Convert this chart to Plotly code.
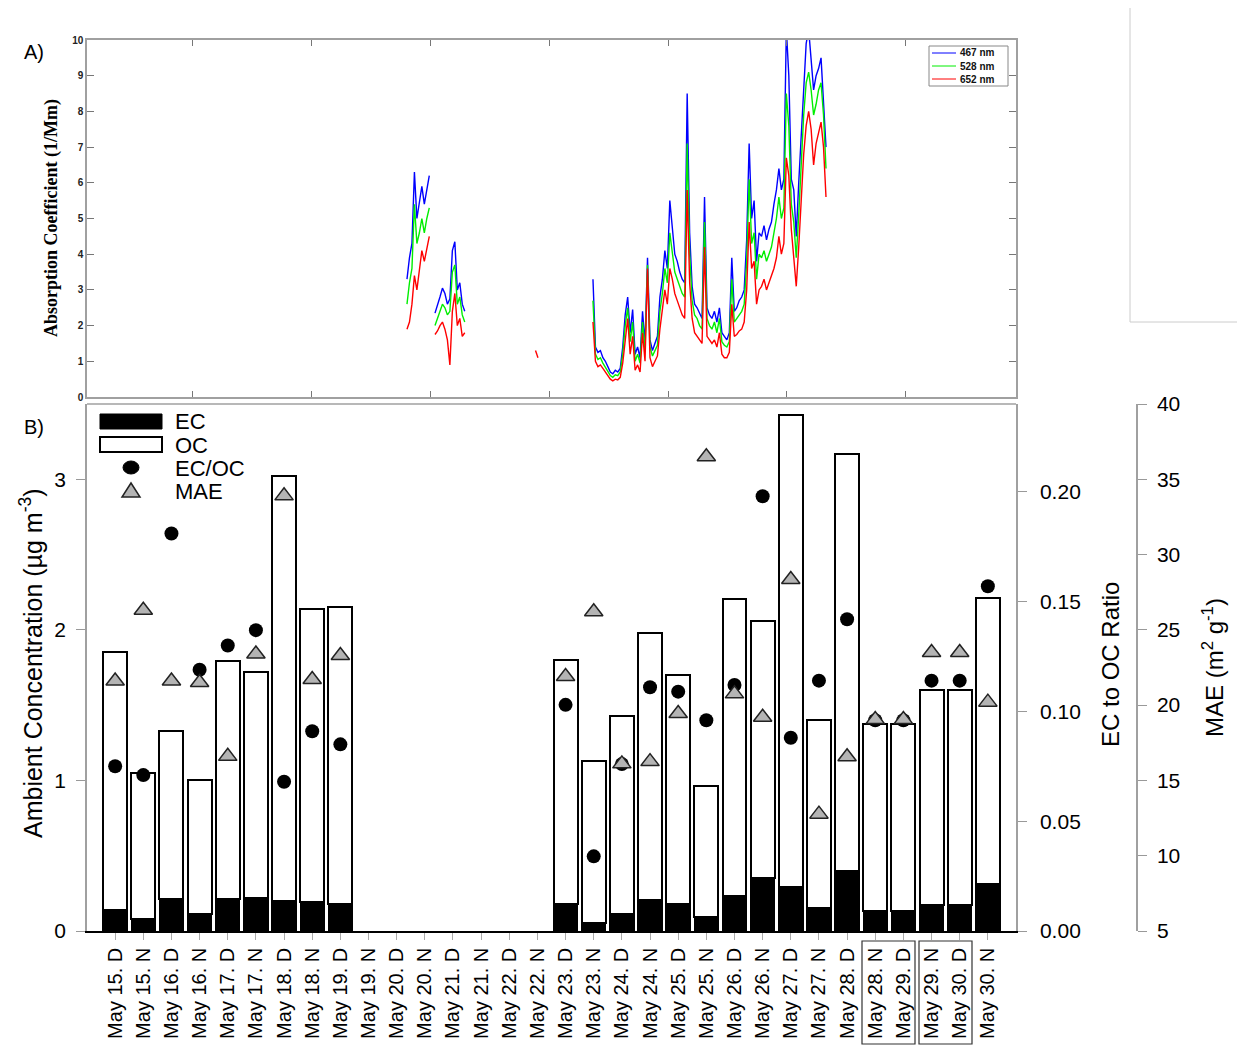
import plotly.graph_objects as go

W, H = 1237, 1046

# ---------------- Panel A: absorption coefficient (1/Mm), hourly samples ----------------
# segment start times (day of May); samples are hourly
seg_start_days = [19.613, 20.084, 21.773, 22.739]

b467_seg1 = [3.3, 3.9, 4.3, 6.3, 5.0, 5.5, 5.9, 5.4, 5.8, 6.2]
g528_seg1 = [2.6, 3.2, 3.6, 5.4, 4.3, 4.6, 5.0, 4.6, 5.0, 5.3]
r652_seg1 = [1.9, 2.1, 2.6, 3.4, 3.0, 3.6, 4.1, 3.8, 4.2, 4.5]

b467_seg2 = [2.35, 2.55, 2.8, 3.05, 2.9, 2.6, 2.75, 4.1, 4.35, 3.0, 3.2, 2.6, 2.4]
g528_seg2 = [2.0, 2.2, 2.4, 2.6, 2.5, 2.3, 2.4, 3.5, 3.7, 2.6, 2.8, 2.3, 2.1]
r652_seg2 = [1.75, 1.85, 2.0, 2.1, 1.9, 1.6, 0.9, 2.4, 2.9, 2.0, 2.2, 1.7, 1.8]

r652_seg3 = [1.3, 1.1]

b467_seg4 = [3.3, 1.4, 1.25, 1.3, 1.1, 1.0, 0.85, 0.7, 0.65, 0.75,
             0.7, 0.8, 1.4, 2.3, 2.8, 1.8, 2.45, 1.2, 1.4, 1.1,
             2.4, 1.5, 3.9, 1.6, 1.3, 1.5, 1.7, 2.8, 3.3, 4.1,
             3.6, 5.5, 4.7, 4.0, 3.8, 3.5, 3.3, 3.2, 8.5, 4.6,
             3.1, 2.6, 2.5, 2.35, 2.2, 5.6, 2.5, 2.3, 2.2, 2.4,
             2.1, 2.5, 1.8, 1.7, 1.6, 1.8, 3.9, 2.4, 2.5, 2.7,
             2.8, 3.0, 4.4, 7.1, 5.0, 5.5, 3.8, 4.6, 4.5, 4.8,
             4.4, 4.7, 4.9, 5.4, 5.8, 6.4, 5.8, 6.1, 10.3, 9.0,
             6.1, 5.8, 4.5, 6.0, 7.4, 8.6, 9.9, 10.3, 9.3, 8.6,
             9.0, 9.2, 9.5, 8.4, 7.0]
g528_seg4 = [2.7, 1.2, 1.05, 1.1, 0.95, 0.85, 0.72, 0.6, 0.55, 0.62,
             0.6, 0.7, 1.2, 2.0, 2.5, 1.55, 2.1, 1.0, 1.2, 0.95,
             2.1, 1.3, 3.7, 1.4, 1.15, 1.3, 1.45, 2.4, 2.9, 3.6,
             3.2, 4.6, 4.1, 3.5, 3.3, 3.1, 2.9, 2.8, 7.1, 4.0,
             2.7, 2.3, 2.2, 2.0, 1.9, 4.9, 2.2, 2.0, 1.9, 2.1,
             1.8, 2.2, 1.55, 1.45, 1.4, 1.55, 3.3, 2.1, 2.2, 2.3,
             2.4, 2.6, 3.8, 6.1, 4.3, 4.6, 3.3, 4.0, 3.9, 4.1,
             3.8, 4.0, 4.2, 4.6, 5.0, 5.6, 5.0, 5.3, 8.5, 7.6,
             5.4, 4.9, 3.9, 5.1, 6.6, 7.9, 8.8, 9.1, 8.6, 7.9,
             8.2, 8.6, 8.8, 7.9, 6.4]
r652_seg4 = [2.1, 1.0, 0.85, 0.9, 0.8, 0.7, 0.6, 0.5, 0.45, 0.5,
             0.48, 0.55, 0.95, 1.6, 2.2, 1.2, 1.7, 0.75, 0.9, 0.7,
             1.8, 1.0, 3.6, 1.1, 0.85, 1.0, 1.15, 1.9, 2.4, 3.0,
             2.6, 3.6, 3.3, 2.9, 2.7, 2.5, 2.3, 2.2, 5.8, 3.2,
             2.2, 1.8, 1.7, 1.6, 1.5, 4.2, 1.7, 1.6, 1.5, 1.6,
             1.4, 1.8, 1.2, 1.1, 1.1, 1.25, 2.6, 1.7, 1.75, 1.85,
             1.9, 2.1, 3.0, 4.9, 3.6, 3.8, 2.6, 3.0, 3.1, 3.3,
             3.0, 3.2, 3.4, 3.6, 3.9, 4.5, 4.0, 4.3, 6.7, 6.2,
             4.7, 4.0, 3.1, 4.2, 5.6, 6.8, 7.6, 8.0, 7.5, 6.5,
             7.1, 7.4, 7.7, 7.0, 5.6]

top_tick_days = [16, 18, 20, 22, 24, 26, 28]

# ---------------- Panel B: EC / OC / ratio / MAE ----------------
categories = ['May 15. D', 'May 15. N', 'May 16. D', 'May 16. N', 'May 17. D', 'May 17. N',
              'May 18. D', 'May 18. N', 'May 19. D', 'May 19. N', 'May 20. D', 'May 20. N',
              'May 21. D', 'May 21. N', 'May 22. D', 'May 22. N', 'May 23. D', 'May 23. N',
              'May 24. D', 'May 24. N', 'May 25. D', 'May 25. N', 'May 26. D', 'May 26. N',
              'May 27. D', 'May 27. N', 'May 28. D', 'May 28. N', 'May 29. D', 'May 29. N',
              'May 30. D', 'May 30. N']
NA = None
ec = [0.14, 0.08, 0.21, 0.11, 0.21, 0.22, 0.20, 0.19, 0.18,
      NA, NA, NA, NA, NA, NA, NA,
      0.18, 0.05, 0.11, 0.205, 0.18, 0.095, 0.235, 0.35, 0.29, 0.155, 0.40, 0.13, 0.13,
      0.175, 0.175, 0.315]
oc = [1.71, 0.97, 1.12, 0.89, 1.58, 1.50, 2.82, 1.95, 1.97,
      NA, NA, NA, NA, NA, NA, NA,
      1.62, 1.08, 1.32, 1.775, 1.52, 0.865, 1.97, 1.71, 3.14, 1.245, 2.77, 1.245, 1.245,
      1.425, 1.425, 1.895]
ec_oc_ratio = [0.075, 0.071, 0.181, 0.119, 0.130, 0.137, 0.068, 0.091, 0.085,
               NA, NA, NA, NA, NA, NA, NA,
               0.103, 0.034, 0.076, 0.111, 0.109, 0.096, 0.112, 0.198, 0.088, 0.114, 0.142,
               0.096, 0.096, 0.114, 0.114, 0.157]
mae = [21.6, 26.3, 21.6, 21.5, 16.6, 23.4, 33.9, 21.7, 23.3,
       NA, NA, NA, NA, NA, NA, NA,
       21.9, 26.2, 16.1, 16.25, 19.45, 36.5, 20.75, 19.2, 28.35, 12.76, 16.57, 19.04, 19.04,
       23.5, 23.5, 20.2]


def px(x):
    return x / W


def py(y):
    return 1 - y / H


def build(starts, segs):
    xs, ys = [], []
    for s, vals in zip(starts, segs):
        if vals is None:
            continue
        for i, v in enumerate(vals):
            xs.append(s + i / 24.0)
            ys.append(v)
        xs.append(None)
        ys.append(None)
    return xs, ys


fig = go.Figure()

for segs, col, name in [
    ([b467_seg1, b467_seg2, None, b467_seg4], '#0000ff', '467 nm'),
    ([g528_seg1, g528_seg2, None, g528_seg4], '#00ee00', '528 nm'),
    ([r652_seg1, r652_seg2, r652_seg3, r652_seg4], '#ff0000', '652 nm'),
]:
    xs, ys = build(seg_start_days, segs)
    fig.add_trace(go.Scatter(x=xs, y=ys, mode='lines', name=name,
                             line=dict(color=col, width=1.4), connectgaps=False,
                             xaxis='x', yaxis='y', showlegend=False))

# bars
fig.add_trace(go.Bar(x=categories, y=ec, name='EC', marker=dict(color='black', line=dict(color='black', width=1.5)),
                     width=0.85, xaxis='x2', yaxis='y2', showlegend=False))
fig.add_trace(go.Bar(x=categories, y=oc, name='OC', marker=dict(color='white', line=dict(color='black', width=2)),
                     width=0.85, xaxis='x2', yaxis='y2', showlegend=False))
fig.add_trace(go.Scatter(x=categories, y=ec_oc_ratio, mode='markers', name='EC/OC',
                         marker=dict(symbol='circle', size=14, color='black'),
                         xaxis='x2', yaxis='y3', showlegend=False))
fig.add_trace(go.Scatter(x=categories, y=mae, mode='markers', name='MAE',
                         marker=dict(symbol='triangle-up', size=16, color='#b4b4b4',
                                     line=dict(color='#222222', width=1.5)),
                         xaxis='x2', yaxis='y4', showlegend=False))

GRAY = '#a0a0a0'
sans = 'Liberation Sans, Arial, sans-serif'

fig.update_layout(
    template='none',
    width=W, height=H,
    margin=dict(l=0, r=0, t=0, b=0),
    paper_bgcolor='white', plot_bgcolor='white',
    showlegend=False,
    barmode='stack',
    font=dict(family=sans, color='black'),
    xaxis=dict(domain=[px(87), px(1016)], anchor='y', range=[14.235, 29.849],
               tickvals=top_tick_days, showticklabels=False, ticks='inside', ticklen=6,
               tickcolor='#777', showline=True, linecolor=GRAY, linewidth=1.5, mirror='ticks',
               showgrid=False, zeroline=False, automargin=False),
    yaxis=dict(domain=[py(397), py(40)], anchor='x', range=[0, 10], dtick=1,
               ticks='inside', ticklen=7, tickcolor='#777', showline=True, linecolor=GRAY,
               linewidth=1.5, mirror='ticks', showgrid=False, zeroline=False, automargin=False,
               tickfont=dict(family=sans, size=10, color='#222', weight='bold')),
    xaxis2=dict(domain=[px(87), px(1016)], anchor='y2', type='category',
                categoryorder='array', categoryarray=categories, range=[-1, 32],
                tickangle=-90, ticks='outside', ticklen=7, tickcolor='#aaaaaa',
                showline=True, linecolor='black', linewidth=1.5, showgrid=False,
                zeroline=False, automargin=False,
                tickfont=dict(family=sans, size=20, color='black')),
    yaxis2=dict(domain=[py(931), py(404)], anchor='x2', range=[0, 3.5], dtick=1,
                ticks='outside', ticklen=9, tickcolor='#999', showline=True, linecolor=GRAY,
                linewidth=1.5, showgrid=False, zeroline=False, automargin=False,
                ticklabelstandoff=6,
                tickfont=dict(family=sans, size=21, color='black')),
    yaxis3=dict(overlaying='y2', anchor='x2', side='right', range=[0, 0.24],
                tickvals=[0, 0.05, 0.10, 0.15, 0.20], tickformat='.2f',
                ticks='outside', ticklen=9, tickcolor='#999', showline=True, linecolor=GRAY,
                linewidth=1.5, showgrid=False, zeroline=False, automargin=False,
                ticklabelstandoff=9,
                tickfont=dict(family=sans, size=21, color='black')),
    yaxis4=dict(overlaying='y2', anchor='free', position=px(1137), side='right',
                range=[5, 40], dtick=5, ticks='outside', ticklen=9, tickcolor='#999',
                showline=True, linecolor=GRAY, linewidth=1.5, showgrid=False,
                zeroline=False, automargin=False, ticklabelstandoff=6,
                tickfont=dict(family=sans, size=21, color='black')),
)

shapes = []
# top border of panel B
shapes.append(dict(type='line', xref='paper', yref='paper', x0=px(87), x1=px(1016),
                   y0=py(404), y1=py(404), line=dict(color=GRAY, width=1.5)))
# boxes around x labels
for x0, x1 in [(862, 915), (919, 972)]:
    shapes.append(dict(type='rect', xref='paper', yref='paper', x0=px(x0), x1=px(x1),
                       y0=py(1044), y1=py(941), line=dict(color='#333', width=1.2)))
# stray frame lines at top right
shapes.append(dict(type='line', xref='paper', yref='paper', x0=px(1130), x1=px(1130),
                   y0=py(8), y1=py(322), line=dict(color='#cccccc', width=1)))
shapes.append(dict(type='line', xref='paper', yref='paper', x0=px(1130), x1=px(1237),
                   y0=py(322), y1=py(322), line=dict(color='#cccccc', width=1)))
# panel A legend
shapes.append(dict(type='rect', xref='paper', yref='paper', x0=px(929), x1=px(1008),
                   y0=py(86), y1=py(46), line=dict(color='#888', width=1), fillcolor='white'))
for yy, col in [(53, '#0000ff'), (66, '#00ee00'), (79, '#ff0000')]:
    shapes.append(dict(type='line', xref='paper', yref='paper', x0=px(932), x1=px(956),
                       y0=py(yy), y1=py(yy), line=dict(color=col, width=1)))
# panel B legend glyphs
shapes.append(dict(type='rect', xref='paper', yref='paper', x0=px(100), x1=px(162),
                   y0=py(429), y1=py(414), line=dict(color='black', width=1), fillcolor='black'))
shapes.append(dict(type='rect', xref='paper', yref='paper', x0=px(100), x1=px(162),
                   y0=py(452), y1=py(437), line=dict(color='black', width=2), fillcolor='white'))
shapes.append(dict(type='circle', xref='paper', yref='paper', x0=px(123), x1=px(139),
                   y0=py(474), y1=py(461), line=dict(color='black', width=1), fillcolor='black'))
shapes.append(dict(type='path', xref='paper', yref='paper',
                   path=f'M {px(122)} {py(497)} L {px(140)} {py(497)} L {px(131)} {py(483)} Z',
                   line=dict(color='#222', width=1.5), fillcolor='#b4b4b4'))
fig.update_layout(shapes=shapes)

ann = []
ann.append(dict(text='A)', x=px(22), y=py(52), xref='paper', yref='paper', showarrow=False,
                xanchor='left', yanchor='middle', font=dict(family=sans, size=20)))
ann.append(dict(text='B)', x=px(22), y=py(427), xref='paper', yref='paper', showarrow=False,
                xanchor='left', yanchor='middle', font=dict(family=sans, size=20)))
ann.append(dict(text='Absorption Coefficient (1/Mm)', x=px(51), y=py(218), xref='paper',
                yref='paper', showarrow=False, textangle=-90, xanchor='center', yanchor='middle',
                font=dict(family='Liberation Serif, Times New Roman, serif', size=18,
                          weight='bold')))
for yy, t in [(53, '467 nm'), (66, '528 nm'), (79, '652 nm')]:
    ann.append(dict(text=t, x=px(958), y=py(yy), xref='paper', yref='paper', showarrow=False,
                    xanchor='left', yanchor='middle',
                    font=dict(family=sans, size=10, weight='bold', color='#111')))
for yy, t in [(421, 'EC'), (445, 'OC'), (468, 'EC/OC'), (491, 'MAE')]:
    ann.append(dict(text=t, x=px(173), y=py(yy), xref='paper', yref='paper', showarrow=False,
                    xanchor='left', yanchor='middle', font=dict(family=sans, size=22)))
ann.append(dict(text='Ambient Concentration (µg m<sup>-3</sup>)', x=px(31), y=py(663),
                xref='paper', yref='paper', showarrow=False, textangle=-90,
                xanchor='center', yanchor='middle', font=dict(family=sans, size=25)))
ann.append(dict(text='EC to OC Ratio', x=px(1110), y=py(665), xref='paper', yref='paper',
                showarrow=False, textangle=-90, xanchor='center', yanchor='middle',
                font=dict(family=sans, size=24)))
ann.append(dict(text='MAE (m<sup>2</sup> g<sup>-1</sup>)', x=px(1213), y=py(668),
                xref='paper', yref='paper', showarrow=False, textangle=-90,
                xanchor='center', yanchor='middle', font=dict(family=sans, size=24)))
fig.update_layout(annotations=ann)

fig.write_html('out.html', config={'displayModeBar': False},
               post_script="document.body.style.margin='0';document.body.style.padding='0';")
